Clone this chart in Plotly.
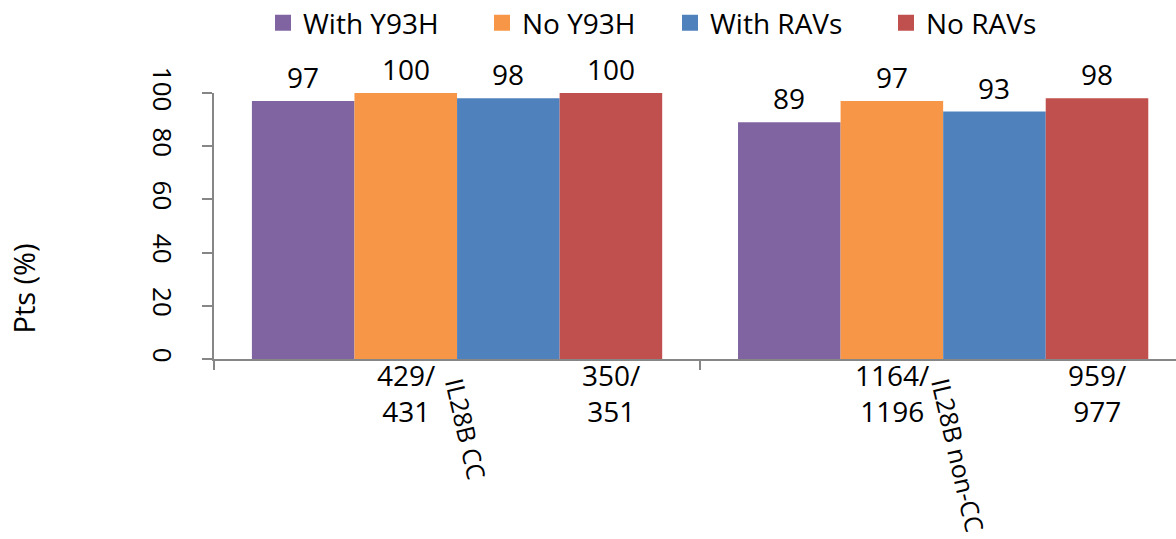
import plotly.graph_objects as go

# SVR rates (%) by IL28B genotype and baseline resistance status
groups = ["IL28B CC", "IL28B non-CC"]
series_names = ["With Y93H", "No Y93H", "With RAVs", "No RAVs"]
with_y93h = [97, 89]
no_y93h = [100, 97]
with_ravs = [98, 93]
no_ravs = [100, 98]
no_y93h_counts = ["429/<br>431", "1164/<br>1196"]
no_ravs_counts = ["350/<br>351", "959/<br>977"]
colors = ["#8064A2", "#F79646", "#4F81BD", "#C0504D"]

FONT = "Open Sans"
BARGAP = 0.156
L_MARGIN, PLOT_W = 214, 962

# left edge (px) of each legend entry along the top row
legend_px = [263, 482, 670, 886]
legend_ids = ["legend", "legend2", "legend3", "legend4"]

values = [with_y93h, no_y93h, with_ravs, no_ravs]
fig = go.Figure()
for name, vals, col, lid in zip(series_names, values, colors, legend_ids):
    fig.add_trace(go.Bar(x=groups, y=vals, name=name, marker_color=col,
                         marker_line_width=0, showlegend=False))
    # legend proxy with a larger square swatch
    fig.add_trace(go.Scatter(x=[None], y=[None], mode="markers", name=name,
                             legend=lid,
                             marker=dict(symbol="square", size=16, color=col)))

# value labels above bars and n/N labels below selected bars
bar_w = (1 - BARGAP) / len(series_names)
annotations = []
for i, vals in enumerate(values):
    off = (i - (len(series_names) - 1) / 2) * bar_w
    for g, v in enumerate(vals):
        annotations.append(dict(x=g + off, y=v, xref="x", yref="y", text=str(v),
                                showarrow=False, yanchor="bottom", yshift=3,
                                font=dict(family=FONT, size=28, color="black")))
for i, counts in [(1, no_y93h_counts), (3, no_ravs_counts)]:
    off = (i - (len(series_names) - 1) / 2) * bar_w
    for g, txt in enumerate(counts):
        annotations.append(dict(x=g + off, y=0, xref="x", yref="y", text=txt,
                                showarrow=False, yanchor="top", yshift=5,
                                font=dict(family=FONT, size=28, color="black")))

annotations.append(dict(x=-0.198, y=0.263, xref="paper", yref="paper", text="Pts (%)",
                        textangle=-90, showarrow=False, xanchor="center", yanchor="middle",
                        font=dict(family=FONT, size=29, color="black")))

layout_legends = {}
for lid, px in zip(legend_ids, legend_px):
    layout_legends[lid] = dict(
        orientation="h", x=(px - L_MARGIN) / PLOT_W, y=1.263,
        xanchor="left", yanchor="middle", bgcolor="rgba(0,0,0,0)",
        font=dict(family=FONT, size=28, color="black"), itemsizing="trace")

fig.update_layout(
    width=1176, height=539,
    margin=dict(l=L_MARGIN, r=0, t=93, b=180, autoexpand=False),
    paper_bgcolor="white", plot_bgcolor="white",
    barmode="group", bargap=BARGAP, bargroupgap=0,
    font=dict(family=FONT, color="black"),
    annotations=annotations,
    xaxis=dict(range=[-0.5, 1.479], showline=True, linecolor="#868686", linewidth=1.5,
               ticks="outside", tickson="boundaries", ticklen=9, tickcolor="#868686",
               tickwidth=1.5, tickangle=77, ticklabelstandoff=0, automargin=False,
               tickfont=dict(family=FONT, size=25, color="black"), showgrid=False),
    yaxis=dict(range=[0, 100], tickvals=[0, 20, 40, 60, 80, 100], showline=True,
               linecolor="#868686", linewidth=1.5, ticks="outside", ticklen=10,
               tickcolor="#868686", tickwidth=1.5, tickangle=90, ticklabelstandoff=18,
               automargin=False,
               tickfont=dict(family=FONT, size=26, color="black"), showgrid=False,
               zeroline=False),
    **layout_legends,
)

fig.write_html("out.html")
